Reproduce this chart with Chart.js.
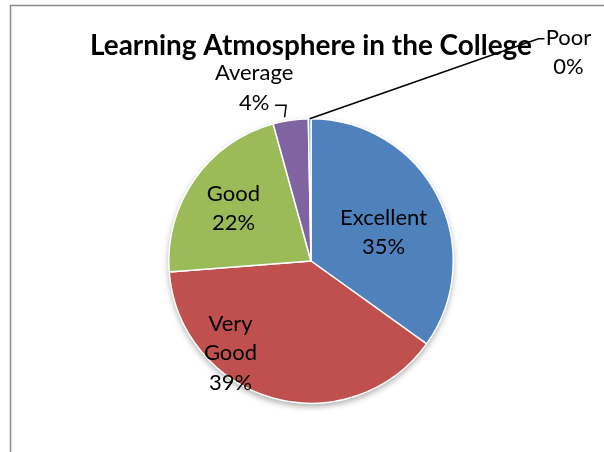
<!DOCTYPE html>
<html><head><meta charset="utf-8">
<script src="https://cdn.jsdelivr.net/npm/chart.js@4/dist/chart.umd.min.js"></script>
<style>html,body{margin:0;padding:0;background:#fff}#wrap{width:604px;height:452px;position:relative}</style>
</head><body><div id="wrap"><canvas id="c" width="604" height="452"></canvas></div>
<script>
const chartTitle = "Learning Atmosphere in the College";
const categories = ["Excellent", "Very Good", "Good", "Average", "Poor"];
const values = [35, 39, 22, 4, 0.3];
const sliceColors = ["#4F81BD", "#C0504D", "#9BBB59", "#8064A2", "#4BACC6"];
// label text lines per category (wrapped like the reference)
const labelLines = [["Excellent"], ["Very", "Good"], ["Good"], ["Average"], ["Poor"]];
// first-line anchor offsets in units of radius (relative to pie centre)
const labelOffsets = [[0.51, -0.305], [-0.566, 0.44], [-0.545, -0.475], [-0.40, -1.32], [1.81, -1.57]];

const FONT = "Lato, 'Open Sans', sans-serif";

const labelPlugin = {
  id: 'pieLabels',
  beforeDraw(chart) {
    const ctx = chart.ctx;
    ctx.save();
    ctx.fillStyle = '#fff';
    ctx.fillRect(0, 0, chart.width, chart.height);
    ctx.strokeStyle = '#8c8c8c';
    ctx.lineWidth = 1.5;
    ctx.beginPath();
    ctx.moveTo(10.5, chart.height);
    ctx.lineTo(10.5, 5.5);
    ctx.lineTo(chart.width, 5.5);
    ctx.stroke();
    ctx.restore();
  },
  beforeDatasetsDraw(chart) {
    const arc = chart.getDatasetMeta(0).data[0];
    const ctx = chart.ctx;
    ctx.save();
    ctx.shadowColor = 'rgba(0,0,0,0.35)';
    ctx.shadowBlur = 6;
    ctx.shadowOffsetY = 3;
    ctx.fillStyle = '#fff';
    ctx.beginPath();
    ctx.arc(arc.x, arc.y, arc.outerRadius, 0, Math.PI * 2);
    ctx.fill();
    ctx.restore();
  },
  afterDatasetsDraw(chart) {
    const ctx = chart.ctx;
    const meta = chart.getDatasetMeta(0);
    const total = values.reduce((a, b) => a + b, 0);
    const cx = meta.data[0].x, cy = meta.data[0].y, r = meta.data[0].outerRadius;
    ctx.save();
    // title
    ctx.fillStyle = '#000';
    ctx.textAlign = 'center';
    ctx.textBaseline = 'middle';
    ctx.font = "bold 28px " + FONT;
    ctx.fillText(chartTitle, cx, cy - r * 1.512, 442);

    // leader lines
    ctx.strokeStyle = '#000';
    ctx.lineWidth = 1.5;
    // Average
    const avg = meta.data[3];
    const aMid = (avg.startAngle + avg.endAngle) / 2;
    const ax = cx + Math.cos(aMid) * r, ay = cy + Math.sin(aMid) * r;
    const lx = cx + labelOffsets[3][0] * r, ly = cy + labelOffsets[3][1] * r;
    ctx.beginPath();
    ctx.moveTo(lx + 21, ly + 32);
    ctx.lineTo(lx + 32, ly + 32);
    ctx.lineTo(ax - 6, ay - 3);
    ctx.stroke();
    // Poor
    const pr = meta.data[4];
    const pMid = (pr.startAngle + pr.endAngle) / 2;
    const px = cx + Math.cos(pMid) * r, py = cy + Math.sin(pMid) * r;
    const qx = cx + labelOffsets[4][0] * r, qy = cy + labelOffsets[4][1] * r;
    ctx.beginPath();
    ctx.moveTo(qx - 24, qy + 1);
    ctx.lineTo(qx - 30, qy + 1);
    ctx.lineTo(px, py);
    ctx.stroke();

    // labels
    ctx.font = "22px " + FONT;
    ctx.fillStyle = '#000';
    const lh = 29.5;
    meta.data.forEach((el, i) => {
      const pct = Math.round(values[i] / total * 100) + '%';
      const lines = labelLines[i].concat([pct]);
      const x = cx + labelOffsets[i][0] * r;
      const y0 = cy + labelOffsets[i][1] * r;
      lines.forEach((t, k) => ctx.fillText(t, x, y0 + k * lh));
    });
    ctx.restore();
  }
};

new Chart(document.getElementById('c'), {
  type: 'pie',
  data: {
    labels: categories,
    datasets: [{
      data: values,
      backgroundColor: sliceColors,
      borderColor: '#ffffff',
      borderWidth: 1.5
    }]
  },
  options: {
    responsive: false,
    animation: false,
    layout: { padding: { top: 118, bottom: 48, left: 168, right: 150 } },
    plugins: { legend: { display: false }, tooltip: { enabled: false }, title: { display: false } }
  },
  plugins: [labelPlugin]
});
</script>
</body></html>
